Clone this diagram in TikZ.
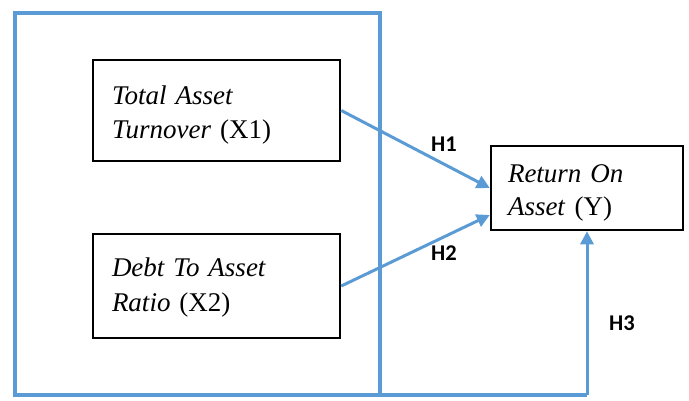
\documentclass[tikz,border=0pt]{standalone}
\usepackage{fontspec}
\setmainfont{Liberation Serif}[
  UprightFont={Liberation Serif},
  ItalicFont={Liberation Serif Italic},
  BoldFont={Liberation Serif Bold}]
\newfontfamily\labelfont{Carlito}[BoldFont={Carlito Bold}]
\usetikzlibrary{arrows.meta}
\definecolor{frameblue}{HTML}{5B9BD5}

\begin{document}
\begin{tikzpicture}[x=1pt,y=-1pt,
  varbox/.style={draw=black, line width=2.5pt, inner sep=0pt, align=left,
    font=\fontsize{27}{34}\selectfont},
  frame/.style={draw=frameblue, line width=4pt},
  link/.style={draw=frameblue, line width=3pt,
    -{Triangle[length=13pt,width=13pt]}},
  hyp/.style={font=\labelfont\bfseries\fontsize{22.5}{27}\selectfont}]

\useasboundingbox (0,0) rectangle (689,400);

% outer frame grouping the two independent variables
\draw[frame] (15,13) rectangle (380,395);

% variable boxes (the zero-width rules set the first line's height)
\node[varbox, minimum width=247pt, minimum height=101pt, text width=209pt]
  (x1) at (216.5,110.5)
  {\rule{0pt}{26.8pt}\textit{Total Asset}\\\textit{Turnover} (X1)};
\node[varbox, minimum width=247pt, minimum height=104pt, text width=209pt]
  (x2) at (216.5,286)
  {\rule{0pt}{22pt}\textit{Debt To Asset}\\[1pt]\textit{Ratio} (X2)};
\node[varbox, minimum width=192pt, minimum height=84pt, text width=158pt]
  (y) at (587,188)
  {\rule{0pt}{27.8pt}\textit{Return On}\\[-1pt]\textit{Asset} (Y)};

% hypothesis paths
\draw[link] (x1.east) -- (y.west);
\draw[link] (x2.east) -- ([yshift=-27pt]y.west);

\coordinate (fbr) at (380,395);
\coordinate (corner) at (587,395);
\draw[frame] (fbr) -- (corner);
\draw[link] (corner) -- (y.south);

% hypothesis labels
\node[hyp] (h1) at (444,144) {H1};
\node[hyp] (h2) at (444,253) {H2};
\node[hyp] (h3) at (622,323) {H3};
\end{tikzpicture}
\end{document}
